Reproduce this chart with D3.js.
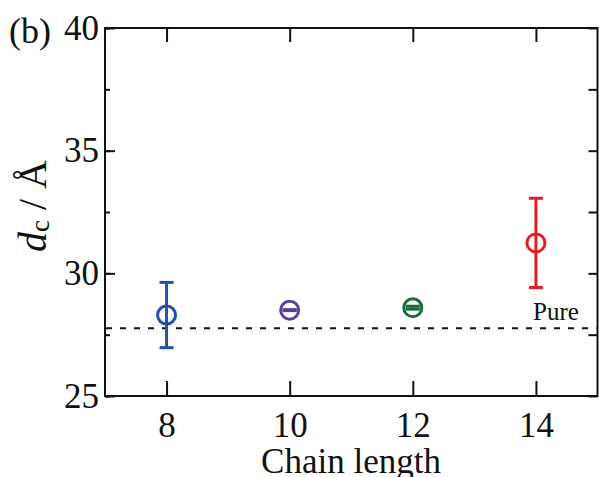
<!DOCTYPE html>
<html>
<head>
<meta charset="utf-8">
<script src="https://cdn.jsdelivr.net/npm/d3@7"></script>
<style>
  body { margin: 0; background: #fff; }
  text { font-family: "Liberation Serif", "Times New Roman", serif; fill: #111; }
</style>
</head>
<body>
<svg id="chart" width="599" height="477"></svg>
<script>
// data
var chainLength = [8, 10, 12, 14];
var dcValue     = [28.3, 28.5, 28.6, 31.24];
var dcError     = [1.33, 0.02, 0.06, 1.82];
var pointColor  = ["#2352a4", "#5a3f9c", "#1c6b3a", "#e31d25"];
var pureValue   = 27.76;
var yMajorTicks = [25, 30, 35, 40];
var yAllTicks   = [25, 27.5, 30, 32.5, 35, 37.5, 40];
var xTicks      = [8, 10, 12, 14];

var svg = d3.select("#chart");
var plotLeft = 105, plotRight = 597.5, plotTop = 28, plotBottom = 396;

var x = d3.scaleLinear().domain([7, 15]).range([plotLeft, plotRight]);
var y = d3.scaleLinear().domain([25, 40]).range([plotBottom, plotTop]);

// frame
svg.append("rect")
    .attr("x", plotLeft).attr("y", plotTop)
    .attr("width", plotRight - plotLeft).attr("height", plotBottom - plotTop)
    .attr("fill", "none").attr("stroke", "#111").attr("stroke-width", 2);

function styleAxis(g) {
    g.attr("font-size", 35).attr("font-family", "Liberation Serif, serif");
    g.select(".domain").remove();
    g.selectAll(".tick line").attr("stroke", "#111").attr("stroke-width", 2);
    g.selectAll(".tick text").attr("fill", "#111");
}

// left axis: minor ticks
svg.append("g").attr("transform", "translate(" + plotLeft + ",0)")
    .call(d3.axisLeft(y).tickValues(yAllTicks).tickSize(-5).tickFormat(""))
    .call(styleAxis);
// left axis: major ticks with labels
svg.append("g").attr("transform", "translate(" + plotLeft + ",0)")
    .call(d3.axisLeft(y).tickValues(yMajorTicks).tickSize(-10).tickPadding(6).tickFormat(d3.format("d")))
    .call(styleAxis);
// right axis
svg.append("g").attr("transform", "translate(" + plotRight + ",0)")
    .call(d3.axisRight(y).tickValues(yAllTicks).tickSize(-9).tickFormat(""))
    .call(styleAxis);
// bottom axis
svg.append("g").attr("transform", "translate(0," + plotBottom + ")")
    .call(d3.axisBottom(x).tickValues(xTicks).tickSize(-15).tickPadding(16).tickFormat(d3.format("d")))
    .call(styleAxis);
// top axis
svg.append("g").attr("transform", "translate(0," + plotTop + ")")
    .call(d3.axisTop(x).tickValues(xTicks).tickSize(-14).tickFormat(""))
    .call(styleAxis);

// pure reference line
svg.append("line")
    .attr("x1", plotLeft + 1).attr("x2", plotRight - 1)
    .attr("y1", y(pureValue)).attr("y2", y(pureValue))
    .attr("stroke", "#111").attr("stroke-width", 2)
    .attr("stroke-dasharray", "6,8");
svg.append("text")
    .attr("x", 556).attr("y", y(pureValue) - 8)
    .attr("text-anchor", "middle").attr("font-size", 25)
    .text("Pure");

// error bars and markers
var pts = chainLength.map(function(d, i) {
    return {x: d, y: dcValue[i], e: dcError[i], c: pointColor[i]};
});
var g = svg.append("g");
var capW = 7;
pts.forEach(function(p) {
    var cx = x(p.x);
    var gp = g.append("g").attr("stroke", p.c).attr("stroke-width", 3).attr("fill", "none");
    gp.append("line").attr("x1", cx).attr("x2", cx)
        .attr("y1", y(p.y - p.e)).attr("y2", y(p.y + p.e));
    gp.append("line").attr("x1", cx - capW).attr("x2", cx + capW)
        .attr("y1", y(p.y + p.e)).attr("y2", y(p.y + p.e));
    gp.append("line").attr("x1", cx - capW).attr("x2", cx + capW)
        .attr("y1", y(p.y - p.e)).attr("y2", y(p.y - p.e));
    gp.append("circle").attr("cx", cx).attr("cy", y(p.y)).attr("r", 9);
});

// labels
svg.append("text").attr("x", 9).attr("y", 43).attr("font-size", 36).text("(b)");

svg.append("text")
    .attr("x", 351).attr("y", 473)
    .attr("text-anchor", "middle").attr("font-size", 35)
    .text("Chain length");

var yl = svg.append("text")
    .attr("transform", "translate(46,206) rotate(-90)")
    .attr("text-anchor", "middle").attr("font-size", 40);
yl.append("tspan").attr("font-style", "italic").text("d");
yl.append("tspan").attr("font-size", 27).attr("dy", 3).text("c");
yl.append("tspan").attr("dy", -3).text(" / Å");
</script>
</body>
</html>
